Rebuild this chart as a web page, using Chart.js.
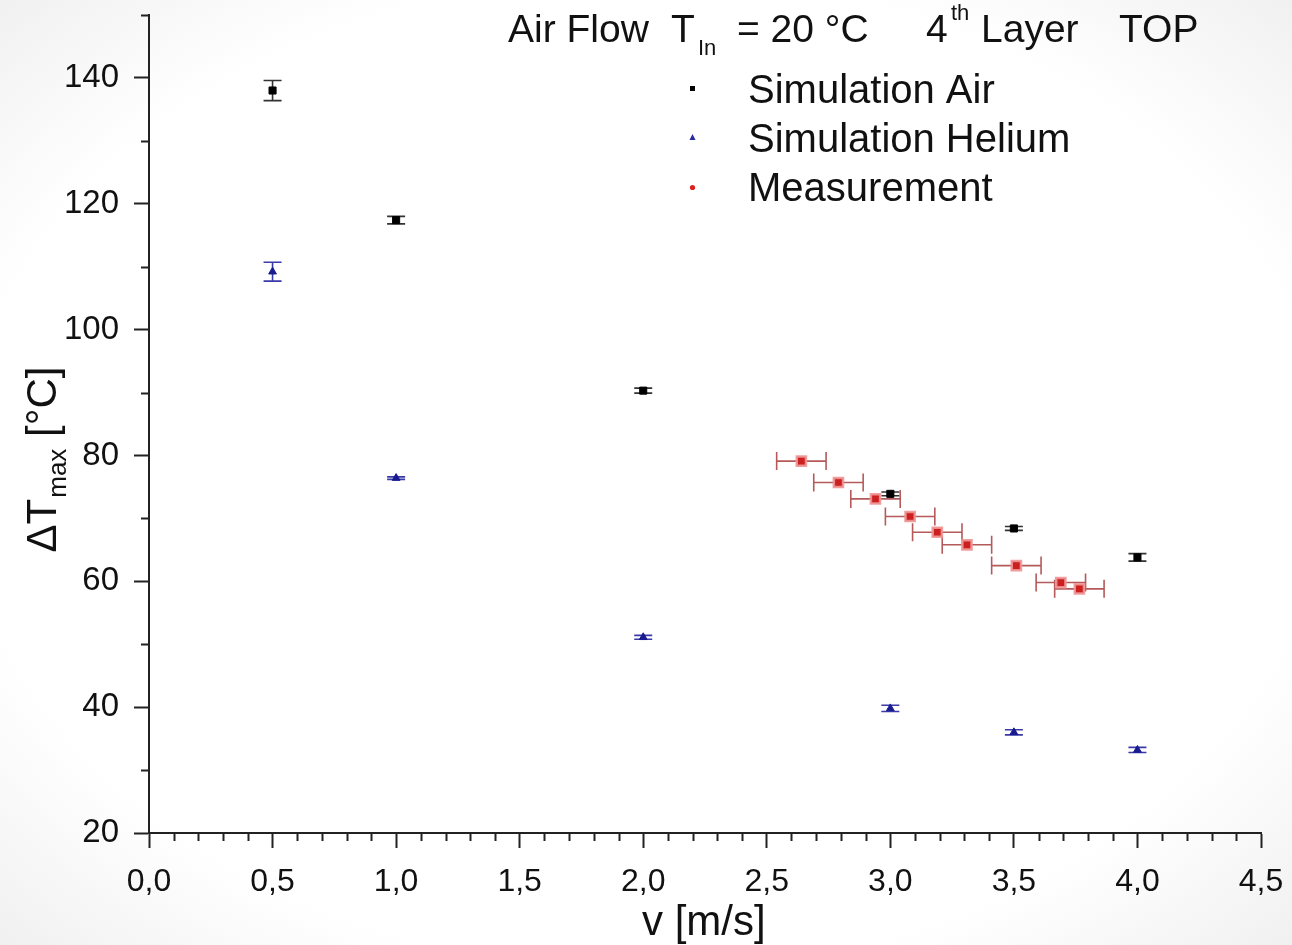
<!DOCTYPE html>
<html>
<head>
<meta charset="utf-8">
<script src="https://cdn.jsdelivr.net/npm/chart.js@4.4.1/dist/chart.umd.min.js"></script>
<style>
  html, body { margin: 0; padding: 0; }
  body {
    width: 1292px; height: 945px; overflow: hidden;
    background: radial-gradient(ellipse 75% 75% at 50% 50%, #ffffff 70%, #ededed 100%);
  }
  #wrap { position: relative; width: 1292px; height: 945px; }
</style>
</head>
<body>
<div id="wrap"><canvas id="c"></canvas></div>
<script>
// ---------- DATA ----------
const airV      = [0.5, 1.0, 2.0, 3.0, 3.5, 4.0];
const airDT     = [138.0, 117.4, 90.3, 73.9, 68.4, 63.8];
const airErr    = [1.6, 0.6, 0.4, 0.3, 0.3, 0.6];

const heliumV   = [0.5, 1.0, 2.0, 3.0, 3.5, 4.0];
const heliumDT  = [109.2, 76.4, 51.1, 39.8, 36.0, 33.2];
const heliumErr = [1.5, 0.2, 0.3, 0.5, 0.4, 0.4];

const measV     = [2.64, 2.79, 2.94, 3.08, 3.19, 3.31, 3.51, 3.69, 3.765];
const measDT    = [79.1, 75.7, 73.1, 70.3, 67.8, 65.8, 62.5, 59.8, 58.8];
const measErrV  = [0.10, 0.10, 0.10, 0.10, 0.10, 0.10, 0.10, 0.10, 0.10];

const xTickValues = [0, 0.5, 1.0, 1.5, 2.0, 2.5, 3.0, 3.5, 4.0, 4.5];
const xTickLabels = ['0,0','0,5','1,0','1,5','2,0','2,5','3,0','3,5','4,0','4,5'];
const yTickValues = [20, 40, 60, 80, 100, 120, 140];
const yTickLabels = ['20','40','60','80','100','120','140'];

const legendLabels = ['Simulation Air', 'Simulation Helium', 'Measurement'];

// ---------- HELPERS ----------
const FONT = '"Liberation Sans", Arial, sans-serif';

function pts(xs, ys) { return xs.map((x, i) => ({ x: x, y: ys[i] })); }

const errorBars = {
  id: 'errorBars',
  beforeDatasetsDraw(chart) {
    const ctx = chart.ctx;
    const xs = chart.scales.x, ys = chart.scales.y;
    chart.data.datasets.forEach((ds) => {
      const ey = ds.errY || [], ex = ds.errX || [];
      ctx.save();
      ctx.strokeStyle = ds.errColor;
      ctx.lineWidth = 1.6;
      ds.data.forEach((p, i) => {
        const px = xs.getPixelForValue(p.x), py = ys.getPixelForValue(p.y);
        if (ey[i]) {
          const y1 = ys.getPixelForValue(p.y + ey[i]);
          const y2 = ys.getPixelForValue(p.y - ey[i]);
          const cw = ds.capW;
          ctx.beginPath();
          ctx.moveTo(px, y1); ctx.lineTo(px, y2);
          ctx.moveTo(px - cw, y1); ctx.lineTo(px + cw, y1);
          ctx.moveTo(px - cw, y2); ctx.lineTo(px + cw, y2);
          ctx.stroke();
        }
        if (ex[i]) {
          const x1 = xs.getPixelForValue(p.x - ex[i]);
          const x2 = xs.getPixelForValue(p.x + ex[i]);
          const ch = ds.capH;
          ctx.beginPath();
          ctx.moveTo(x1, py); ctx.lineTo(x2, py);
          ctx.moveTo(x1, py - ch); ctx.lineTo(x1, py + ch);
          ctx.moveTo(x2, py - ch); ctx.lineTo(x2, py + ch);
          ctx.stroke();
        }
      });
      ctx.restore();
    });
  }
};

const minorTicks = {
  id: 'minorTicks',
  afterDraw(chart) {
    const ctx = chart.ctx;
    const xs = chart.scales.x, ys = chart.scales.y;
    const area = chart.chartArea;
    ctx.save();
    ctx.strokeStyle = '#222';
    ctx.lineWidth = 2;
    ctx.beginPath();
    for (let v = 1; v <= 45; v++) {
      if (v % 5 === 0) continue;
      const px = Math.round(xs.getPixelForValue(v / 10)) + 0.5;
      ctx.moveTo(px, area.bottom); ctx.lineTo(px, area.bottom + 8);
    }
    for (let v = 30; v <= 150; v += 20) {
      const py = Math.round(ys.getPixelForValue(v)) + 0.5;
      ctx.moveTo(area.left, py); ctx.lineTo(area.left - 8, py);
    }
    ctx.stroke();
    ctx.restore();
  }
};

function drawSeg(ctx, text, x, y, size) {
  ctx.font = size + 'px ' + FONT;
  ctx.fillText(text, x, y);
}

const annotations = {
  id: 'annotations',
  afterDraw(chart) {
    const ctx = chart.ctx;
    ctx.save();
    ctx.fillStyle = '#111';
    ctx.textBaseline = 'alphabetic';
    ctx.textAlign = 'left';
    // header
    drawSeg(ctx, 'Air Flow', 508, 42, 39);
    drawSeg(ctx, 'T', 671, 42, 39);
    drawSeg(ctx, 'In', 698, 55, 22);
    drawSeg(ctx, '= 20 °C', 737, 42, 39);
    drawSeg(ctx, '4', 926, 42, 39);
    drawSeg(ctx, 'th', 951, 20, 22);
    drawSeg(ctx, 'Layer', 981, 42, 39);
    drawSeg(ctx, 'TOP', 1119, 42, 39);

    // legend
    const ly = [89, 138, 187];
    legendLabels.forEach((t, i) => {
      drawSeg(ctx, t, 748, ly[i] + 14, 40);
    });
    ctx.fillStyle = '#000';
    ctx.fillRect(690, 86, 5, 5);
    ctx.fillStyle = '#2a2aa0';
    ctx.beginPath();
    ctx.moveTo(692.5, 134); ctx.lineTo(695.5, 140); ctx.lineTo(689.5, 140); ctx.closePath();
    ctx.fill();
    ctx.fillStyle = '#d22';
    ctx.beginPath(); ctx.arc(692.5, 187.5, 2.6, 0, Math.PI * 2); ctx.fill();

    // axis titles
    ctx.fillStyle = '#111';
    drawSeg(ctx, 'v [m/s]', 642, 935, 42);

    ctx.translate(56, 460);
    ctx.rotate(-Math.PI / 2);
    ctx.font = '42px ' + FONT;
    const w1 = ctx.measureText('ΔT').width;
    ctx.font = '26px ' + FONT;
    const w2 = ctx.measureText('max').width;
    ctx.font = '42px ' + FONT;
    const w3 = ctx.measureText(' [°C]').width;
    const tot = w1 + w2 + w3;
    let x0 = -tot / 2;
    drawSeg(ctx, 'ΔT', x0, 0, 42);
    drawSeg(ctx, 'max', x0 + w1 + 1, 10, 26);
    drawSeg(ctx, ' [°C]', x0 + w1 + w2 + 1, 0, 42);
    ctx.restore();
  }
};

// ---------- CHART ----------
new Chart(document.getElementById('c'), {
  type: 'scatter',
  data: {
    datasets: [
      {
        label: legendLabels[0],
        data: pts(airV, airDT),
        errY: airErr, errColor: '#333', capW: 9,
        pointStyle: 'rect', pointRadius: 5,
        backgroundColor: '#000', borderColor: '#000', borderWidth: 1
      },
      {
        label: legendLabels[1],
        data: pts(heliumV, heliumDT),
        errY: heliumErr, errColor: '#3a3aa8', capW: 9,
        pointStyle: 'triangle', pointRadius: 4.5,
        backgroundColor: '#1a1a90', borderColor: '#1a1a90', borderWidth: 1
      },
      {
        label: legendLabels[2],
        data: pts(measV, measDT),
        errX: measErrV, errColor: '#b45a5a', capH: 9,
        pointStyle: 'rect', pointRadius: 6.5,
        backgroundColor: '#cc1f1f', borderColor: 'rgba(240,150,150,0.9)', borderWidth: 2.5
      }
    ]
  },
  options: {
    responsive: true,
    maintainAspectRatio: false,
    animation: false,
    layout: { padding: { top: 15, right: 31, left: 0, bottom: 0 } },
    plugins: { legend: { display: false }, tooltip: { enabled: false } },
    scales: {
      x: {
        type: 'linear', min: 0, max: 4.5,
        afterBuildTicks(s) { s.ticks = xTickValues.map(v => ({ value: v })); },
        afterFit(s) { s.height = 112; s.paddingLeft = 0; s.paddingRight = 0; },
        ticks: {
          autoSkip: false, maxRotation: 0,
          callback(v, i) { return xTickLabels[i]; },
          font: { family: FONT, size: 32 }, color: '#111', padding: 15
        },
        grid: { drawOnChartArea: false, drawTicks: true, tickLength: 15, tickWidth: 2, tickColor: '#222' },
        border: { display: true, color: '#222', width: 2 }
      },
      y: {
        type: 'linear', min: 20, max: 150,
        afterBuildTicks(s) { s.ticks = yTickValues.map(v => ({ value: v })); },
        afterFit(s) { s.width = 149; s.paddingTop = 0; s.paddingBottom = 0; },
        ticks: {
          autoSkip: false,
          callback(v, i) { return yTickLabels[i]; },
          font: { family: FONT, size: 33 }, color: '#111', padding: 15
        },
        grid: { drawOnChartArea: false, drawTicks: true, tickLength: 15, tickWidth: 2, tickColor: '#222' },
        border: { display: true, color: '#222', width: 2 }
      }
    }
  },
  plugins: [errorBars, minorTicks, annotations]
});
</script>
</body>
</html>
